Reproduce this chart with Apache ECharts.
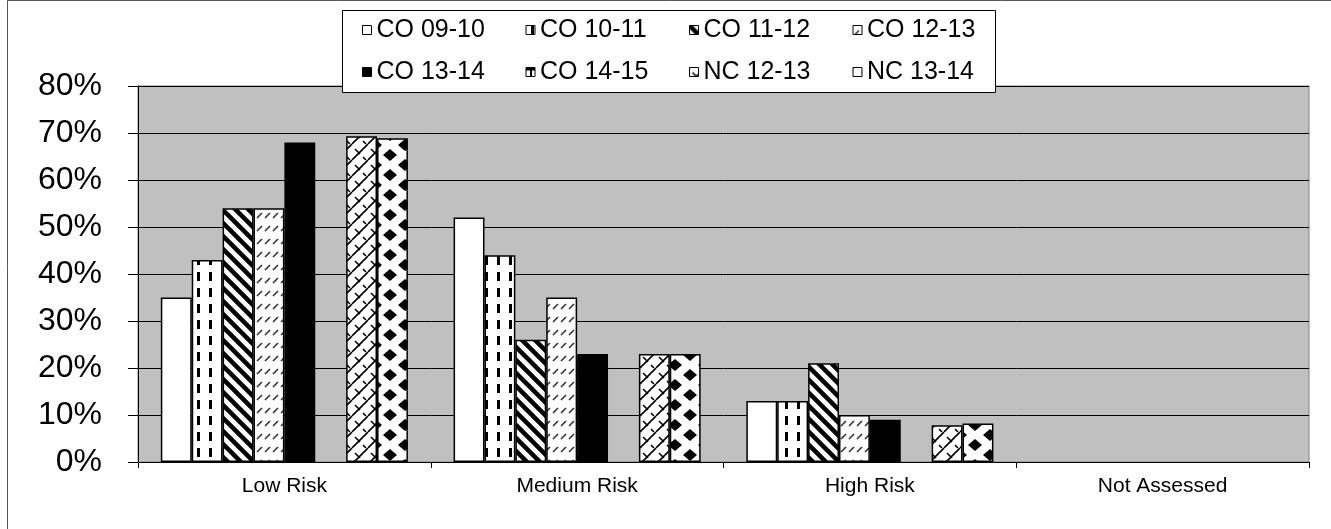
<!DOCTYPE html>
<html>
<head>
<meta charset="utf-8">
<script src="https://cdn.jsdelivr.net/npm/echarts@6/dist/echarts.min.js"></script>
<style>
html,body{margin:0;padding:0;background:#fff;}
#chart{width:1331px;height:529px;}
</style>
</head>
<body>
<div id="chart"></div>
<script>
// ---- data ----
const categories = ['Low Risk', 'Medium Risk', 'High Risk', 'Not Assessed'];
const seriesNames = ['CO 09-10', 'CO 10-11', 'CO 11-12', 'CO 12-13', 'CO 13-14', 'CO 14-15', 'NC 12-13', 'NC 13-14'];
const co0910 = [35, 52, 13, null];
const co1011 = [43, 44, 13, null];
const co1112 = [54, 26, 21, null];
const co1213 = [54, 35, 10, null];
const co1314 = [68, 23, 9, null];
const co1415 = [null, null, null, null];
const nc1213 = [69.3, 23, 7.8, null];
const nc1314 = [68.9, 23, 8.2, null];
const seriesValues = [co0910, co1011, co1112, co1213, co1314, co1415, nc1213, nc1314];
const yTicks = [0, 10, 20, 30, 40, 50, 60, 70, 80];

// ---- pattern fills ----
function mk(w, h, draw) {
  const c = document.createElement('canvas');
  c.width = w; c.height = h;
  const g = c.getContext('2d');
  g.fillStyle = '#fff';
  g.fillRect(0, 0, w, h);
  draw(g, w, h);
  return { image: c, repeat: 'repeat' };
}
const patterns = [
  '#ffffff',
  mk(12, 16, (g) => { g.fillStyle = '#000'; g.fillRect(5, 0, 3, 9); }),
  mk(13, 13, (g, w, h) => {
    g.strokeStyle = '#000'; g.lineWidth = 4.5;
    for (const o of [-13, 0, 13]) { g.beginPath(); g.moveTo(o - 2, -2); g.lineTo(o + 15, 15); g.stroke(); }
  }),
  mk(8, 13, (g) => {
    g.strokeStyle = '#333'; g.lineWidth = 1.6;
    g.beginPath(); g.moveTo(1, 10); g.lineTo(6, 5); g.stroke();
  }),
  '#000000',
  mk(10, 10, (g) => {
    g.fillStyle = '#000'; g.fillRect(0, 0, 10, 3); g.fillRect(4, 3, 2, 7);
  }),
  mk(16, 16, (g) => {
    g.strokeStyle = '#000'; g.lineWidth = 1.6;
    for (const o of [-16, 0, 16]) { g.beginPath(); g.moveTo(o, 16); g.lineTo(o + 16, 0); g.stroke(); }
    g.beginPath(); g.moveTo(3, 5); g.lineTo(8, 10); g.stroke();
    g.beginPath(); g.moveTo(11, 13); g.lineTo(14, 16); g.stroke();
    g.beginPath(); g.moveTo(11, -3); g.lineTo(14, 0); g.stroke();
  }),
  mk(30, 20, (g) => {
    g.fillStyle = '#000';
    const dia = (cx, cy) => { g.beginPath(); g.moveTo(cx, cy - 6); g.lineTo(cx + 7, cy); g.lineTo(cx, cy + 6); g.lineTo(cx - 7, cy); g.closePath(); g.fill(); };
    dia(15, 5); dia(0, 15); dia(30, 15); dia(15, 25); dia(0, -5); dia(30, -5);
  })
];

const FONT = 'Liberation Sans, Arial, sans-serif';

function legendRow(names, top) {
  return {
    data: names,
    icon: 'rect',
    left: 362, top: top, padding: 0, z: 10,
    itemWidth: 9, itemHeight: 9, itemGap: 29,
    textStyle: { fontFamily: FONT, fontSize: 25, color: '#000', width: 120, lineHeight: 26 },
    itemStyle: { borderColor: '#000', borderWidth: 1 }
  };
}

const chart = echarts.init(document.getElementById('chart'), null, { renderer: 'canvas' });
chart.setOption({
  animation: false,
  backgroundColor: '#fff',
  graphic: [{
    type: 'rect', left: 5, top: -2, z: -10,
    shape: { width: 1324, height: 530 },
    style: { fill: 'none', stroke: '#555', lineWidth: 1 }
  }, {
    type: 'rect', left: 342, top: 10, z: 3,
    shape: { width: 653, height: 82 },
    style: { fill: '#fff', stroke: '#000', lineWidth: 1 }
  }],
  legend: [legendRow(seriesNames.slice(0, 4), 17), legendRow(seriesNames.slice(4), 59)],
  grid: {
    left: 138, right: 22, top: 86, bottom: 67,
    show: true, backgroundColor: '#c0c0c0', borderColor: '#808080', borderWidth: 1
  },
  xAxis: {
    type: 'category', data: categories,
    axisLine: { lineStyle: { color: '#000', width: 1 } },
    axisTick: { show: true, length: 6, lineStyle: { color: '#000' } },
    axisLabel: { fontFamily: FONT, fontSize: 21, color: '#000', margin: 14 },
    splitLine: { show: false }
  },
  yAxis: {
    type: 'value', min: 0, max: 80, interval: 10,
    axisLine: { show: true, lineStyle: { color: '#000', width: 1 } },
    axisTick: { show: true, length: 10, lineStyle: { color: '#000' } },
    axisLabel: { fontFamily: FONT, fontSize: 32, color: '#000', margin: 36, formatter: (v) => yTicks.includes(v) ? v + '%' : '' },
    splitLine: { show: true, lineStyle: { color: '#000', width: 1 } }
  },
  series: seriesNames.map((name, i) => ({
    name: name, type: 'bar', data: seriesValues[i],
    barGap: '0%', barCategoryGap: '15.6%',
    itemStyle: { color: patterns[i], borderColor: '#000', borderWidth: 1.5 },
    emphasis: { disabled: true }
  }))
});
</script>
</body>
</html>
